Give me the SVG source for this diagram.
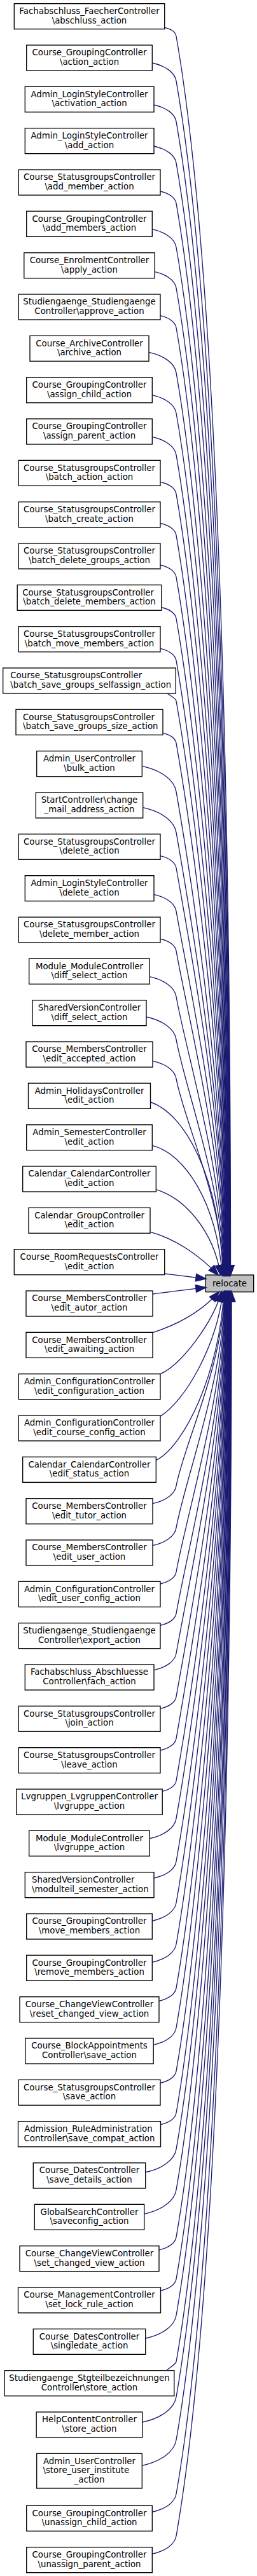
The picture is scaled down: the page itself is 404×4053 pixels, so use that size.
<svg xmlns="http://www.w3.org/2000/svg" width="404" height="4053" viewBox="0 0 404 4053">
<style>
.n rect{fill:#fff;stroke:#000;stroke-width:1.33}
.r rect{fill:#bfbfbf;stroke:#000;stroke-width:1.33}
text{font-family:"DejaVu Sans",sans-serif;font-size:13.33px;text-anchor:middle;fill:#000}
text.l{text-anchor:start}
.e path{fill:none;stroke:#191970;stroke-width:1.33;marker-end:url(#ah)}
</style>
<defs>
<marker id="ah" markerUnits="userSpaceOnUse" markerWidth="16" markerHeight="12" viewBox="0 0 13 9.4" refX="12.5" refY="4.7" orient="auto" overflow="visible">
<path d="M0,0 L13,4.7 L0,9.4 z" fill="#191970" stroke="#191970" stroke-width="1.2"/>
</marker>
</defs>
<rect width="404" height="4053" fill="#fff"/>
<g id="n1" class="n" transform="translate(0,5.7)"><rect x="22.3" y="0" width="236.4" height="40"/><text x="140.5" y="16.4">Fachabschluss_FaecherController</text><text x="140.5" y="31.1">\abschluss_action</text></g>
<g id="n2" class="n" transform="translate(0,71)"><rect x="41.7" y="0" width="197.6" height="40"/><text x="140.5" y="16.4">Course_GroupingController</text><text x="140.5" y="31.1">\action_action</text></g>
<g id="n3" class="n" transform="translate(0,136.3)"><rect x="39.3" y="0" width="202.7" height="40"/><text x="140.5" y="16.4">Admin_LoginStyleController</text><text x="140.5" y="31.1">\activation_action</text></g>
<g id="n4" class="n" transform="translate(0,201.7)"><rect x="39.3" y="0" width="202.7" height="40"/><text x="140.5" y="16.4">Admin_LoginStyleController</text><text x="140.5" y="31.1">\add_action</text></g>
<g id="n5" class="n" transform="translate(0,267)"><rect x="29.3" y="0" width="222.7" height="40"/><text x="140.5" y="16.4">Course_StatusgroupsController</text><text x="140.5" y="31.1">\add_member_action</text></g>
<g id="n6" class="n" transform="translate(0,332.3)"><rect x="41.7" y="0" width="197.6" height="40"/><text x="140.5" y="16.4">Course_GroupingController</text><text x="140.5" y="31.1">\add_members_action</text></g>
<g id="n7" class="n" transform="translate(0,397.7)"><rect x="37.8" y="0" width="205.4" height="40"/><text x="140.5" y="16.4">Course_EnrolmentController</text><text x="140.5" y="31.1">\apply_action</text></g>
<g id="n8" class="n" transform="translate(0,463)"><rect x="29.3" y="0" width="222.7" height="40"/><text x="140.5" y="16.4">Studiengaenge_Studiengaenge</text><text x="140.5" y="31.1">Controller\approve_action</text></g>
<g id="n9" class="n" transform="translate(0,528.3)"><rect x="47" y="0" width="187" height="40"/><text x="140.5" y="16.4">Course_ArchiveController</text><text x="140.5" y="31.1">\archive_action</text></g>
<g id="n10" class="n" transform="translate(0,593.7)"><rect x="41.7" y="0" width="197.6" height="40"/><text x="140.5" y="16.4">Course_GroupingController</text><text x="140.5" y="31.1">\assign_child_action</text></g>
<g id="n11" class="n" transform="translate(0,659)"><rect x="41.7" y="0" width="197.6" height="40"/><text x="140.5" y="16.4">Course_GroupingController</text><text x="140.5" y="31.1">\assign_parent_action</text></g>
<g id="n12" class="n" transform="translate(0,724.3)"><rect x="29.3" y="0" width="222.7" height="40"/><text x="140.5" y="16.4">Course_StatusgroupsController</text><text x="140.5" y="31.1">\batch_action_action</text></g>
<g id="n13" class="n" transform="translate(0,789.7)"><rect x="29.3" y="0" width="222.7" height="40"/><text x="140.5" y="16.4">Course_StatusgroupsController</text><text x="140.5" y="31.1">\batch_create_action</text></g>
<g id="n14" class="n" transform="translate(0,855)"><rect x="29.3" y="0" width="222.7" height="40"/><text x="140.5" y="16.4">Course_StatusgroupsController</text><text x="140.5" y="31.1">\batch_delete_groups_action</text></g>
<g id="n15" class="n" transform="translate(0,920.3)"><rect x="27.2" y="0" width="226.6" height="40"/><text x="138.6" y="16.4">Course_StatusgroupsController</text><text x="140.5" y="31.1">\batch_delete_members_action</text></g>
<g id="n16" class="n" transform="translate(0,985.7)"><rect x="29.3" y="0" width="222.7" height="40"/><text x="140.5" y="16.4">Course_StatusgroupsController</text><text x="140.5" y="31.1">\batch_move_members_action</text></g>
<g id="n17" class="n" transform="translate(0,1051)"><rect x="4.7" y="0" width="271.6" height="40"/><text class="l" x="16.3" y="16.4">Course_StatusgroupsController</text><text class="l" x="16.3" y="31.1">\batch_save_groups_selfassign_action</text></g>
<g id="n18" class="n" transform="translate(0,1116.3)"><rect x="25" y="0" width="231" height="40"/><text class="l" x="36" y="16.4">Course_StatusgroupsController</text><text class="l" x="36" y="31.1">\batch_save_groups_size_action</text></g>
<g id="n19" class="n" transform="translate(0,1181.7)"><rect x="57.7" y="0" width="165.6" height="40"/><text x="140.5" y="16.4">Admin_UserController</text><text x="140.5" y="31.1">\bulk_action</text></g>
<g id="n20" class="n" transform="translate(0,1247)"><rect x="56.3" y="0" width="168.4" height="40"/><text x="140.5" y="16.4">StartController\change</text><text x="140.5" y="31.1">_mail_address_action</text></g>
<g id="n21" class="n" transform="translate(0,1312.3)"><rect x="29.3" y="0" width="222.7" height="40"/><text x="140.5" y="16.4">Course_StatusgroupsController</text><text x="140.5" y="31.1">\delete_action</text></g>
<g id="n22" class="n" transform="translate(0,1377.7)"><rect x="39.3" y="0" width="202.7" height="40"/><text x="140.5" y="16.4">Admin_LoginStyleController</text><text x="140.5" y="31.1">\delete_action</text></g>
<g id="n23" class="n" transform="translate(0,1443)"><rect x="29.3" y="0" width="222.7" height="40"/><text x="140.5" y="16.4">Course_StatusgroupsController</text><text x="140.5" y="31.1">\delete_member_action</text></g>
<g id="n24" class="n" transform="translate(0,1508.3)"><rect x="45.7" y="0" width="189.6" height="40"/><text x="140.5" y="16.4">Module_ModuleController</text><text x="140.5" y="31.1">\diff_select_action</text></g>
<g id="n25" class="n" transform="translate(0,1573.7)"><rect x="51" y="0" width="179" height="40"/><text x="140.5" y="16.4">SharedVersionController</text><text x="140.5" y="31.1">\diff_select_action</text></g>
<g id="n26" class="n" transform="translate(0,1639)"><rect x="41" y="0" width="199" height="40"/><text x="140.5" y="16.4">Course_MembersController</text><text x="140.5" y="31.1">\edit_accepted_action</text></g>
<g id="n27" class="n" transform="translate(0,1704.3)"><rect x="44.5" y="0" width="192" height="40"/><text x="140.5" y="16.4">Admin_HolidaysController</text><text x="140.5" y="31.1">\edit_action</text></g>
<g id="n28" class="n" transform="translate(0,1769.7)"><rect x="41.7" y="0" width="197.6" height="40"/><text x="140.5" y="16.4">Admin_SemesterController</text><text x="140.5" y="31.1">\edit_action</text></g>
<g id="n29" class="n" transform="translate(0,1835)"><rect x="35.7" y="0" width="209.6" height="40"/><text x="140.5" y="16.4">Calendar_CalendarController</text><text x="140.5" y="31.1">\edit_action</text></g>
<g id="n30" class="n" transform="translate(0,1900.3)"><rect x="45" y="0" width="191" height="40"/><text x="140.5" y="16.4">Calendar_GroupController</text><text x="140.5" y="31.1">\edit_action</text></g>
<g id="n31" class="n" transform="translate(0,1965.7)"><rect x="22.3" y="0" width="236.4" height="40"/><text x="140.5" y="16.4">Course_RoomRequestsController</text><text x="140.5" y="31.1">\edit_action</text></g>
<g id="n32" class="n" transform="translate(0,2031)"><rect x="41" y="0" width="199" height="40"/><text x="140.5" y="16.4">Course_MembersController</text><text x="140.5" y="31.1">\edit_autor_action</text></g>
<g id="n33" class="n" transform="translate(0,2096.3)"><rect x="41" y="0" width="199" height="40"/><text x="140.5" y="16.4">Course_MembersController</text><text x="140.5" y="31.1">\edit_awaiting_action</text></g>
<g id="n34" class="n" transform="translate(0,2161.7)"><rect x="29.3" y="0" width="222.7" height="40"/><text x="140.5" y="16.4">Admin_ConfigurationController</text><text x="140.5" y="31.1">\edit_configuration_action</text></g>
<g id="n35" class="n" transform="translate(0,2227)"><rect x="29.3" y="0" width="222.7" height="40"/><text x="140.5" y="16.4">Admin_ConfigurationController</text><text x="140.5" y="31.1">\edit_course_config_action</text></g>
<g id="n36" class="n" transform="translate(0,2292.3)"><rect x="35.7" y="0" width="209.6" height="40"/><text x="140.5" y="16.4">Calendar_CalendarController</text><text x="140.5" y="31.1">\edit_status_action</text></g>
<g id="n37" class="n" transform="translate(0,2357.7)"><rect x="41" y="0" width="199" height="40"/><text x="140.5" y="16.4">Course_MembersController</text><text x="140.5" y="31.1">\edit_tutor_action</text></g>
<g id="n38" class="n" transform="translate(0,2423)"><rect x="41" y="0" width="199" height="40"/><text x="140.5" y="16.4">Course_MembersController</text><text x="140.5" y="31.1">\edit_user_action</text></g>
<g id="n39" class="n" transform="translate(0,2488.3)"><rect x="29.3" y="0" width="222.7" height="40"/><text x="140.5" y="16.4">Admin_ConfigurationController</text><text x="140.5" y="31.1">\edit_user_config_action</text></g>
<g id="n40" class="n" transform="translate(0,2553.7)"><rect x="29.3" y="0" width="222.7" height="40"/><text x="140.5" y="16.4">Studiengaenge_Studiengaenge</text><text x="140.5" y="31.1">Controller\export_action</text></g>
<g id="n41" class="n" transform="translate(0,2619)"><rect x="39.3" y="0" width="202.7" height="40"/><text x="140.5" y="16.4">Fachabschluss_Abschluesse</text><text x="140.5" y="31.1">Controller\fach_action</text></g>
<g id="n42" class="n" transform="translate(0,2684.3)"><rect x="29.3" y="0" width="222.7" height="40"/><text x="140.5" y="16.4">Course_StatusgroupsController</text><text x="140.5" y="31.1">\join_action</text></g>
<g id="n43" class="n" transform="translate(0,2749.7)"><rect x="29.3" y="0" width="222.7" height="40"/><text x="140.5" y="16.4">Course_StatusgroupsController</text><text x="140.5" y="31.1">\leave_action</text></g>
<g id="n44" class="n" transform="translate(0,2815)"><rect x="25.8" y="0" width="229.4" height="40"/><text x="140.5" y="16.4">Lvgruppen_LvgruppenController</text><text x="140.5" y="31.1">\lvgruppe_action</text></g>
<g id="n45" class="n" transform="translate(0,2880.3)"><rect x="45.7" y="0" width="189.6" height="40"/><text x="140.5" y="16.4">Module_ModuleController</text><text x="140.5" y="31.1">\lvgruppe_action</text></g>
<g id="n46" class="n" transform="translate(0,2945.7)"><rect x="39.3" y="0" width="202.7" height="40"/><text class="l" x="50" y="16.4">SharedVersionController</text><text class="l" x="50" y="31.1">\modulteil_semester_action</text></g>
<g id="n47" class="n" transform="translate(0,3011)"><rect x="41.7" y="0" width="197.6" height="40"/><text x="140.5" y="16.4">Course_GroupingController</text><text x="140.5" y="31.1">\move_members_action</text></g>
<g id="n48" class="n" transform="translate(0,3076.3)"><rect x="41.7" y="0" width="197.6" height="40"/><text x="140.5" y="16.4">Course_GroupingController</text><text x="140.5" y="31.1">\remove_members_action</text></g>
<g id="n49" class="n" transform="translate(0,3141.7)"><rect x="31" y="0" width="219" height="40"/><text x="140.5" y="16.4">Course_ChangeViewController</text><text x="140.5" y="31.1">\reset_changed_view_action</text></g>
<g id="n50" class="n" transform="translate(0,3207)"><rect x="39.8" y="0" width="201.4" height="40"/><text x="140.5" y="16.4">Course_BlockAppointments</text><text x="140.5" y="31.1">Controller\save_action</text></g>
<g id="n51" class="n" transform="translate(0,3272.3)"><rect x="29.3" y="0" width="222.7" height="40"/><text x="140.5" y="16.4">Course_StatusgroupsController</text><text x="140.5" y="31.1">\save_action</text></g>
<g id="n52" class="n" transform="translate(0,3337.7)"><rect x="28.5" y="0" width="224" height="40"/><text x="139" y="16.4">Admission_RuleAdministration</text><text x="140.5" y="31.1">Controller\save_compat_action</text></g>
<g id="n53" class="n" transform="translate(0,3403)"><rect x="52.3" y="0" width="176.4" height="40"/><text x="140.5" y="16.4">Course_DatesController</text><text x="140.5" y="31.1">\save_details_action</text></g>
<g id="n54" class="n" transform="translate(0,3468.3)"><rect x="54.3" y="0" width="172.4" height="40"/><text x="140.5" y="16.4">GlobalSearchController</text><text x="140.5" y="31.1">\saveconfig_action</text></g>
<g id="n55" class="n" transform="translate(0,3533.7)"><rect x="31" y="0" width="219" height="40"/><text x="140.5" y="16.4">Course_ChangeViewController</text><text x="140.5" y="31.1">\set_changed_view_action</text></g>
<g id="n56" class="n" transform="translate(0,3599)"><rect x="28.5" y="0" width="224" height="40"/><text x="140.5" y="16.4">Course_ManagementController</text><text x="140.5" y="31.1">\set_lock_rule_action</text></g>
<g id="n57" class="n" transform="translate(0,3664.3)"><rect x="52.3" y="0" width="176.4" height="40"/><text x="140.5" y="16.4">Course_DatesController</text><text x="140.5" y="31.1">\singledate_action</text></g>
<g id="n58" class="n" transform="translate(0,3729.7)"><rect x="7.2" y="0" width="266.6" height="40"/><text x="140.5" y="16.4">Studiengaenge_Stgteilbezeichnungen</text><text x="140.5" y="31.1">Controller\store_action</text></g>
<g id="n59" class="n" transform="translate(0,3795)"><rect x="57.2" y="0" width="166.6" height="40"/><text x="140.5" y="16.4">HelpContentController</text><text x="140.5" y="31.1">\store_action</text></g>
<g id="n60" class="n" transform="translate(0,3860.3)"><rect x="57.7" y="0" width="165.6" height="54.7"/><text x="140.5" y="16.4">Admin_UserController</text><text x="135.3" y="31.1">\store_user_institute</text><text x="140.5" y="45.8">_action</text></g>
<g id="n61" class="n" transform="translate(0,3942.3)"><rect x="41.7" y="0" width="197.6" height="40"/><text x="140.5" y="16.4">Course_GroupingController</text><text x="140.5" y="31.1">\unassign_child_action</text></g>
<g id="n62" class="n" transform="translate(0,4007.7)"><rect x="41.7" y="0" width="197.6" height="40"/><text x="140.5" y="16.4">Course_GroupingController</text><text x="140.5" y="31.1">\unassign_parent_action</text></g>
<g id="relocate" class="r"><rect x="323.3" y="2006" width="75.4" height="26.7"/><text x="361" y="2023.6">relocate</text></g>
<g id="edges" class="e">
<path d="M258.7,43.3 C268.8,45.5 275.9,50.6 277,57 C345.2,446.8 362.5,1304.4 362.5,2006"/>
<path d="M239.3,99 C260,103.5 274.7,114.1 277,127.3 C342.8,503 362,1329.7 362,2006"/>
<path d="M242,165 C261.3,169.2 274.9,179.1 277,191.3 C340.5,554.2 361.6,1352.7 361.6,2006"/>
<path d="M242,230 C261.3,234.2 274.9,244.1 277,256.3 C338.2,606.2 361.1,1376.1 361.1,2006"/>
<path d="M252,301 C265.8,304 275.5,311.1 277,319.8 C336,657 360.7,1399 360.7,2006"/>
<path d="M239.3,360.7 C260,365.2 274.7,375.8 277,389 C333.6,712.4 360.2,1423.9 360.2,2006"/>
<path d="M243.3,427.7 C261.8,431.7 275,441.2 277,453 C331.4,763.6 359.8,1446.9 359.8,2006"/>
<path d="M252,496.7 C265.8,499.7 275.5,506.8 277,515.5 C329.2,813.6 359.3,1469.4 359.3,2006"/>
<path d="M234.3,554.3 C257.8,559.4 274.4,571.4 277,586.3 C326.7,870.2 358.9,1494.9 358.9,2006"/>
<path d="M239.3,621.7 C260,626.2 274.7,636.8 277,650 C324.5,921.2 358.4,1517.8 358.4,2006"/>
<path d="M239.3,687.3 C260,691.8 274.7,702.4 277,715.6 C322.2,973.7 358,1541.5 358,2006"/>
<path d="M252,758.3 C265.8,761.3 275.5,768.4 277,777.1 C320,1022.9 357.5,1563.6 357.5,2006"/>
<path d="M252,823.3 C265.8,826.3 275.5,833.4 277,842.1 C317.7,1074.9 357.1,1587 357.1,2006"/>
<path d="M252,889 C265.8,892 275.5,899.1 277,907.8 C315.4,1127.4 356.6,1610.6 356.6,2006"/>
<path d="M254,955.7 C266.7,958.5 275.6,964.9 277,973 C313.2,1179.6 356.2,1634.1 356.2,2006"/>
<path d="M252,1020.4 C265.8,1023.4 275.5,1030.5 277,1039.2 C310.8,1232.6 355.7,1658 355.7,2006"/>
<path d="M263.3,1091.3 C268,1095 276,1098 277,1103 C308.6,1283.6 355.3,1680.9 355.3,2006"/>
<path d="M256,1153.3 C267.6,1155.8 275.7,1161.7 277,1169.1 C306.3,1336.5 354.8,1704.7 354.8,2006"/>
<path d="M223.3,1205.3 C252.8,1211.7 273.8,1226.8 277,1245.6 C303.6,1397.7 354.4,1732.2 354.4,2006"/>
<path d="M225,1270.7 C253.6,1276.9 273.9,1291.5 277,1309.7 C301.4,1449 353.9,1755.3 353.9,2006"/>
<path d="M252,1346.7 C265.8,1349.7 275.5,1356.8 277,1365.5 C299.4,1493.6 353.5,1775.4 353.5,2006"/>
<path d="M242,1407.3 C261.3,1411.5 274.9,1421.4 277,1433.6 C297,1548.1 353,1799.9 353,2006"/>
<path d="M252,1477.3 C265.8,1480.3 275.5,1487.4 277,1496.1 C294.8,1598.1 352.6,1822.4 352.6,2006"/>
<path d="M235.3,1536.7 C258.2,1541.7 274.5,1553.4 277,1568 C292.3,1655.6 352.1,1848.3 352.1,2006"/>
<path d="M230,1600 C255.9,1605.6 274.2,1618.8 277,1635.3 C290,1709.4 351.7,1872.5 351.7,2006"/>
<path d="M240,1669.3 C260.4,1673.7 274.8,1684.1 277,1697.1 C287.8,1758.9 351.2,1894.8 351.2,2006"/>
<path d="M236.7,1734 C290,1752 345,1850 350.5,2006"/>
<path d="M239.3,1802.3 C290,1815 340,1890 349.5,2006"/>
<path d="M245.3,1871.7 C290,1885 335,1935 347,2006"/>
<path d="M236,1938.3 C280,1950 318,1980 343,2006"/>
<path d="M258.7,2004 C280,2006.5 300,2009 323.3,2012"/>
<path d="M240,2036 C270,2032 295,2029 323.3,2025.7"/>
<path d="M240,2096.7 C285,2082 320,2060 344,2032.7"/>
<path d="M252,2161.7 C285,2148 335,2080 348,2032.7"/>
<path d="M252,2228.3 C290,2205 340,2120 350.5,2032.7"/>
<path d="M245.3,2297.7 C290,2275 345,2160 352,2032.7"/>
<path d="M240,2365.7 C260.4,2361.3 274.8,2350.9 277,2337.9 C287.7,2276.9 352.5,2142.6 352.5,2032.7"/>
<path d="M240,2431.7 C260.4,2427.3 274.8,2416.9 277,2403.9 C290,2329.7 353,2166.3 353,2032.7"/>
<path d="M252,2492 C265.8,2489 275.5,2482 277,2473.3 C292.4,2385.2 353.4,2191.3 353.4,2032.7"/>
<path d="M252,2557.3 C265.8,2554.3 275.5,2547.4 277,2538.6 C294.7,2437.4 353.9,2214.8 353.9,2032.7"/>
<path d="M242,2627.7 C261.3,2623.5 274.9,2613.8 277,2601.5 C296.9,2487.7 354.3,2237.5 354.3,2032.7"/>
<path d="M252,2688.3 C265.8,2685.3 275.5,2678.4 277,2669.6 C299.3,2542.2 354.8,2262 354.8,2032.7"/>
<path d="M252,2754 C265.8,2751 275.5,2744.1 277,2735.3 C301.6,2594.8 355.3,2285.6 355.3,2032.7"/>
<path d="M255.3,2818.3 C267.2,2815.7 275.7,2809.6 277,2802 C303.9,2648.1 355.7,2309.6 355.7,2032.7"/>
<path d="M235.3,2892.7 C258.2,2887.7 274.5,2876 277,2861.4 C306,2695.7 356.2,2331 356.2,2032.7"/>
<path d="M242,2955 C261.3,2950.8 274.9,2941.1 277,2928.8 C308.4,2749.6 356.6,2355.3 356.6,2032.7"/>
<path d="M239.3,3022.3 C260,3017.8 274.7,3007.2 277,2994 C310.6,2801.7 357.1,2378.8 357.1,2032.7"/>
<path d="M239.3,3087.3 C260,3082.8 274.7,3072.2 277,3059 C312.9,2853.7 357.6,2402.2 357.6,2032.7"/>
<path d="M250,3148.3 C264.9,3145.1 275.4,3137.5 277,3128.1 C315.3,2909 358,2427 358,2032.7"/>
<path d="M241.3,3217.3 C260.9,3213 274.9,3203 277,3190.5 C317.5,2959 358.5,2449.5 358.5,2032.7"/>
<path d="M252,3277.3 C265.8,3274.3 275.5,3267.4 277,3258.6 C319.9,3013.4 358.9,2474 358.9,2032.7"/>
<path d="M252.7,3342.7 C266.1,3339.8 275.5,3333 277,3324.5 C322.2,3066.1 359.4,2497.7 359.4,2032.7"/>
<path d="M229,3417.7 C255.4,3411.9 274.1,3398.5 277,3381.7 C324.2,3111.9 359.9,2518.3 359.9,2032.7"/>
<path d="M226.7,3483.3 C254.4,3477.3 274,3463.2 277,3445.6 C326.5,3163 360.3,2541.3 360.3,2032.7"/>
<path d="M250,3540 C264.9,3536.8 275.4,3529.2 277,3519.8 C329,3222.4 360.8,2568.1 360.8,2032.7"/>
<path d="M252.7,3604 C266.1,3601.1 275.5,3594.3 277,3585.8 C331.4,3275.2 361.2,2591.8 361.2,2032.7"/>
<path d="M229,3679 C255.4,3673.2 274.1,3659.8 277,3643 C333.4,3320.9 361.7,2612.4 361.7,2032.7"/>
<path d="M261.7,3729.7 C268,3724 276,3720 277,3716 C335.9,3379.3 362.2,2638.7 362.2,2032.7"/>
<path d="M224,3811 C253.2,3804.6 273.8,3789.8 277,3771.3 C337.9,3423.6 362.6,2658.6 362.6,2032.7"/>
<path d="M223.3,3879.3 C252.8,3872.9 273.8,3857.8 277,3839 C340.2,3477.7 363.1,2683 363.1,2032.7"/>
<path d="M239.3,3952.3 C260,3947.8 274.7,3937.2 277,3924 C343.2,3545.7 363.5,2713.6 363.5,2032.7"/>
<path d="M239.3,4018.3 C260,4013.8 274.7,4003.2 277,3990 C345.5,3598.5 364,2737.3 364,2032.7"/>
</g>
</svg>
